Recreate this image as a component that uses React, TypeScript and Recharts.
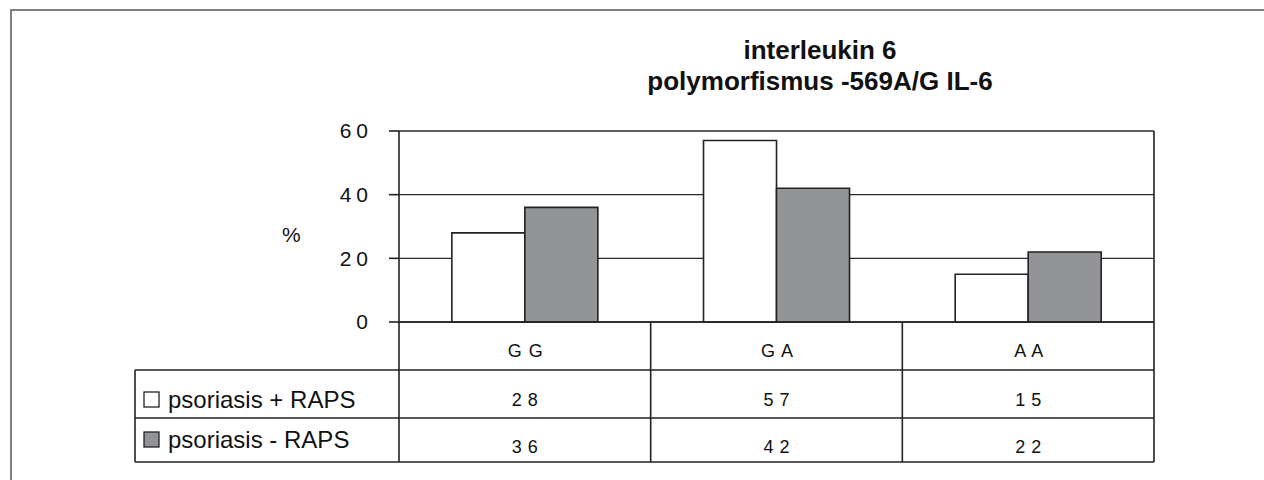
import { BarChart, Bar, XAxis, YAxis, CartesianGrid, Customized, Label } from 'recharts';

const categories = ['G G', 'G A', 'A A'];
const seriesNames = ['psoriasis + RAPS', 'psoriasis - RAPS'];
const withRaps = [28, 57, 15];
const withoutRaps = [36, 42, 22];
const yTicks = [0, 20, 40, 60];
const titleLines = ['interleukin 6', 'polymorfismus -569A/G IL-6'];

const data = categories.map((genotype, i) => ({
  genotype,
  plus: withRaps[i],
  minus: withoutRaps[i],
}));

// layout (px, page coordinates)
const W = 1264;
const H = 480;
const LEFT = 399;
const RIGHT = 1154;
const TOP = 131;
const BOTTOM = 322;
const ROW1 = 370;
const ROW2 = 418;
const TABLE_END = 462;
const LEGEND_LEFT = 135;
const FONT = '"Liberation Sans", Arial, Helvetica, sans-serif';
const INK = '#222';
const GRAY = '#939497';

function TableColumn(props: any) {
  const { x, payload } = props;
  const i = payload.index;
  const band = (RIGHT - LEFT) / categories.length;
  const right = x + band / 2;
  const txt = { fontFamily: FONT, fontSize: 18, fill: '#111', textAnchor: 'middle' as const };
  return (
    <g>
      {i < categories.length - 1 && (
        <line x1={right} y1={BOTTOM} x2={right} y2={TABLE_END} stroke={INK} strokeWidth={1.6} />
      )}
      <text {...txt} x={x + 1} y={357} letterSpacing={1}>
        {payload.value}
      </text>
      <text {...txt} x={x + 3} y={406} letterSpacing={6}>
        {withRaps[i]}
      </text>
      <text {...txt} x={x + 3} y={453} letterSpacing={6}>
        {withoutRaps[i]}
      </text>
    </g>
  );
}

function Frame() {
  const ln = { stroke: INK, strokeWidth: 1.6 };
  return (
    <g>
      <path d={`M11 ${H} L11 10 L${W} 10`} fill="none" stroke="#555" strokeWidth={1.5} />
      {titleLines.map((t, i) => (
        <text
          key={t}
          x={820}
          y={59 + i * 31}
          textAnchor="middle"
          fontFamily={FONT}
          fontWeight="bold"
          fontSize={26}
          fill="#111"
        >
          {t}
        </text>
      ))}
      <line x1={RIGHT} y1={TOP} x2={RIGHT} y2={TABLE_END} {...ln} />
      <line x1={LEFT} y1={BOTTOM} x2={LEFT} y2={TABLE_END} {...ln} />
      <line x1={LEGEND_LEFT} y1={ROW1} x2={LEGEND_LEFT} y2={TABLE_END} {...ln} />
      {[ROW1, ROW2, TABLE_END].map((y) => (
        <line key={y} x1={LEGEND_LEFT} y1={y} x2={RIGHT} y2={y} {...ln} />
      ))}
      {seriesNames.map((name, i) => {
        const baseline = i === 0 ? 408 : 448;
        return (
          <g key={name}>
            <rect
              x={144}
              y={baseline - 16}
              width={15}
              height={15}
              fill={i === 0 ? '#fff' : GRAY}
              stroke={INK}
              strokeWidth={1.3}
            />
            <text x={168} y={baseline} fontFamily={FONT} fontSize={24} fill="#111">
              {name}
            </text>
          </g>
        );
      })}
    </g>
  );
}

export default function App() {
  return (
    <div style={{ position: 'absolute', left: 0, top: 0, width: W, height: H, background: '#fff' }}>
      <BarChart
        width={W}
        height={H}
        data={data}
        margin={{ top: TOP, right: W - RIGHT, bottom: 0, left: 0 }}
        barCategoryGap="21%"
        barGap={0}
      >
        <CartesianGrid vertical={false} stroke="#2a2a2a" strokeWidth={1.4} />
        <XAxis
          dataKey="genotype"
          tickLine={false}
          tickSize={0}
          tickMargin={0}
          axisLine={{ stroke: INK, strokeWidth: 1.6 }}
          tick={<TableColumn />}
          interval={0}
          height={H - BOTTOM}
        />
        <YAxis
          width={LEFT}
          domain={[0, 60]}
          ticks={yTicks}
          interval={0}
          tickSize={10}
          tickMargin={16}
          axisLine={{ stroke: INK, strokeWidth: 1.6 }}
          tickLine={{ stroke: INK, strokeWidth: 1.6 }}
          tick={{ fontSize: 21, fill: '#111', fontFamily: FONT, letterSpacing: 5 }}
        >
          <Label
            value="%"
            position="insideLeft"
            offset={282}
            dy={8}
            style={{ fontSize: 21, fill: '#111', fontFamily: FONT }}
          />
        </YAxis>
        <Bar dataKey="plus" name={seriesNames[0]} fill="#fff" stroke={INK} strokeWidth={1.6} isAnimationActive={false} />
        <Bar dataKey="minus" name={seriesNames[1]} fill={GRAY} stroke={INK} strokeWidth={1.6} isAnimationActive={false} />
        <Customized component={Frame} />
      </BarChart>
    </div>
  );
}
